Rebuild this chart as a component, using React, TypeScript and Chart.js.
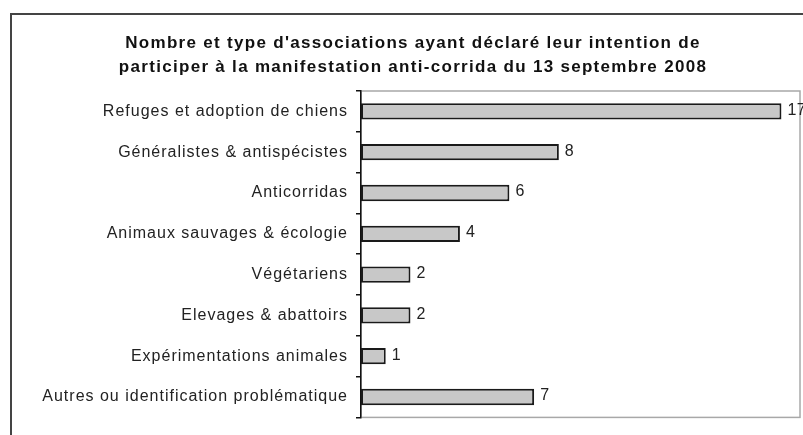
import React, { useEffect, useRef } from "react";
import { Chart, registerables } from "chart.js";

Chart.register(...registerables);

const titleLines = [
  "Nombre et type d'associations ayant déclaré leur intention de",
  "participer à la manifestation anti-corrida du 13 septembre 2008",
];

const categories = [
  "Refuges et adoption de chiens",
  "Généralistes & antispécistes",
  "Anticorridas",
  "Animaux sauvages & écologie",
  "Végétariens",
  "Elevages & abattoirs",
  "Expérimentations animales",
  "Autres ou identification problématique",
];

const counts = [17, 8, 6, 4, 2, 2, 1, 7];

const FONT = "'Liberation Sans', Arial, sans-serif";

const decorPlugin = {
  id: "decor",
  beforeDraw(chart: any) {
    const { ctx, chartArea } = chart;
    ctx.save();
    ctx.fillStyle = "#ffffff";
    ctx.fillRect(0, 0, chart.width, chart.height);
    ctx.strokeStyle = "#a8a8a8";
    ctx.lineWidth = 1.5;
    ctx.strokeRect(chartArea.left, chartArea.top, chartArea.right - chartArea.left, chartArea.bottom - chartArea.top);
    // title
    ctx.fillStyle = "#111111";
    ctx.font = `bold 17px ${FONT}`;
    (ctx as any).letterSpacing = "1.3px";
    ctx.textAlign = "center";
    ctx.textBaseline = "middle";
    titleLines.forEach((t, i) => ctx.fillText(t, 413, 43 + i * 24));
    ctx.restore();
    // letter spacing for tick labels drawn by the scale
    (ctx as any).letterSpacing = "1px";
  },
  afterDatasetsDraw(chart: any) {
    const { ctx } = chart;
    const meta = chart.getDatasetMeta(0);
    ctx.save();
    ctx.fillStyle = "#222222";
    ctx.font = `16px ${FONT}`;
    (ctx as any).letterSpacing = "0.5px";
    ctx.textAlign = "left";
    ctx.textBaseline = "middle";
    meta.data.forEach((bar: any, i: number) => {
      ctx.fillText(String(counts[i]), bar.x + 6, bar.y - 1);
    });
    ctx.restore();
  },
  afterDraw(chart: any) {
    (chart.ctx as any).letterSpacing = "0px";
  },
};

export default function App() {
  const ref = useRef<HTMLCanvasElement | null>(null);
  useEffect(() => {
    if (!ref.current) return;
    const chart = new Chart(ref.current, {
      type: "bar",
      data: {
        labels: categories,
        datasets: [
          {
            data: counts,
            backgroundColor: "#c8c8c8",
            borderColor: "#1a1a1a",
            borderWidth: 2,
            borderSkipped: false,
            categoryPercentage: 1,
            barPercentage: 0.4,
          },
        ],
      },
      options: {
        indexAxis: "y",
        responsive: false,
        animation: false,
        layout: { padding: { left: 0, top: 91, right: 3, bottom: 9 } },
        plugins: {
          legend: { display: false },
          title: { display: false },
          tooltip: { enabled: false },
        },
        scales: {
          x: {
            display: false,
            min: 0,
            max: 17.75,
          },
          y: {
            afterFit: (scale: any) => {
              scale.width = 361;
            },
            border: { display: true, color: "#111111", width: 1.5 },
            grid: {
              display: true,
              drawOnChartArea: false,
              drawTicks: true,
              tickLength: 5,
              color: "#111111",
              lineWidth: 1.5,
              offset: true,
            },
            ticks: {
              color: "#222222",
              padding: 8,
              font: { family: FONT, size: 16 },
            },
          },
        },
      },
      plugins: [decorPlugin],
    });
    return () => chart.destroy();
  }, []);

  return (
    <div style={{ position: "fixed", left: 0, top: 0, width: 803, height: 435, background: "#fff" }}>
      <canvas ref={ref} width={803} height={435} style={{ position: "absolute", left: 0, top: 0 }} />
      <div
        style={{
          position: "absolute",
          left: 10,
          top: 13,
          width: 800,
          height: 440,
          border: "2px solid #444",
          boxSizing: "border-box",
          pointerEvents: "none",
        }}
      />
    </div>
  );
}
